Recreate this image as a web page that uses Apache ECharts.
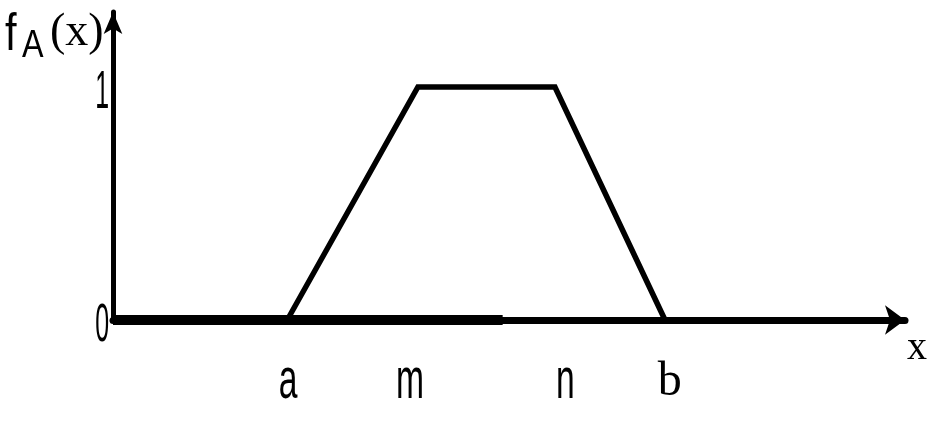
<!DOCTYPE html>
<html>
<head>
<meta charset="utf-8">
<script src="https://cdn.jsdelivr.net/npm/echarts@6/dist/echarts.min.js"></script>
<style>
html,body{margin:0;padding:0;background:#fff;}
#c{width:952px;height:434px;}
</style>
</head>
<body>
<div id="c"></div>
<script>
// Data
var xMax = 10;
var yMax = 1.322;
var tickNames = ['a', 'm', 'n', 'b'];
var tickValues = [2.21, 3.75, 5.71, 7.03];
var yTickValues = [0, 1];
var yTickNames = ['0', '1'];
var trapX = [2.20, 3.85, 5.58, 6.97];
var trapY = [0, 1, 1, 0];
var thickX = [0, 4.92];
var thickY = [0, 0];
var xAxisName = 'x';

var trapData = trapX.map(function (x, i) { return [x, trapY[i]]; });
var thickData = thickX.map(function (x, i) { return [x, thickY[i]]; });

var sans = "'Liberation Sans', Arial, sans-serif";
var serif = "'Liberation Serif', 'Times New Roman', serif";

var chart = echarts.init(document.getElementById('c'), null, {renderer: 'canvas'});
chart.setOption({
  animation: false,
  backgroundColor: '#fff',
  grid: {left: 113, right: 47, top: 12, bottom: 114, containLabel: false},
  xAxis: {
    type: 'value', min: 0, max: xMax,
    axisLine: {show: true, onZero: false, lineStyle: {color: '#000', width: 7}, symbol: ['none', 'arrow'], symbolSize: [22, 20]},
    axisTick: {show: false},
    splitLine: {show: false},
    axisLabel: {show: false}
  },
  yAxis: {
    type: 'value', min: 0, max: yMax,
    axisLine: {show: true, onZero: false, lineStyle: {color: '#000', width: 5}, symbol: ['none', 'arrow'], symbolSize: [14, 22]},
    axisTick: {show: false},
    splitLine: {show: false},
    axisLabel: {show: false}
  },
  series: [
    {type: 'line', data: thickData, symbol: 'none', clip: false, lineStyle: {color: '#000', width: 10}, z: 3},
    {type: 'line', data: trapData, symbol: 'none', clip: false, lineStyle: {color: '#000', width: 5.5, join: 'miter'}, z: 4}
  ]
});

function px(x, y) { return chart.convertToPixel({gridIndex: 0}, [x, y]); }

var g = [];
// y tick labels
yTickValues.forEach(function (v, i) {
  var p = px(0, v);
  g.push({type: 'text', x: p[0] - 4, y: p[1] + 6, scaleX: 0.47, z: 10,
    style: {text: yTickNames[i], fontFamily: sans, fontSize: 53, fill: '#000', align: 'right', verticalAlign: 'middle'}});
});
// x tick labels
tickValues.forEach(function (v, i) {
  var p = px(v, 0);
  var isSerif = tickNames[i] === 'b';
  g.push({type: 'text', x: p[0], y: p[1] + (isSerif ? 62 : 62), scaleX: isSerif ? 1 : 0.58, z: 10,
    style: {text: tickNames[i], fontFamily: isSerif ? serif : sans, fontSize: isSerif ? 48 : 58, fill: '#000', align: 'center', verticalAlign: 'middle'}});
});
// x axis name
var pe = px(xMax, 0);
g.push({type: 'text', x: pe[0] + 12, y: pe[1] + 28, z: 10,
  style: {text: xAxisName, fontFamily: serif, fontSize: 40, fill: '#000', align: 'center', verticalAlign: 'middle'}});
// y axis name f_A(x)
var pt = px(0, yMax);
g.push({type: 'text', x: pt[0] - 108, y: pt[1] + 24, scaleX: 0.8, z: 10,
  style: {text: 'f', fontFamily: sans, fontSize: 52, fill: '#000', align: 'left', verticalAlign: 'middle'}});
g.push({type: 'text', x: pt[0] - 91, y: pt[1] + 35, scaleX: 0.85, z: 10,
  style: {text: 'A', fontFamily: sans, fontSize: 38, fill: '#000', align: 'left', verticalAlign: 'middle'}});
g.push({type: 'text', x: pt[0] - 63, y: pt[1] + 21, z: 10,
  style: {text: '(x)', fontFamily: serif, fontSize: 46, fill: '#000', align: 'left', verticalAlign: 'middle'}});

chart.setOption({graphic: g});
</script>
</body>
</html>
